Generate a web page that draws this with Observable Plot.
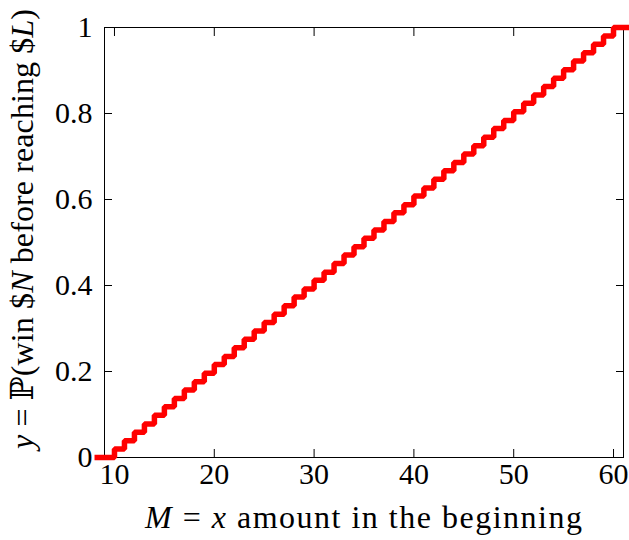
<!DOCTYPE html>
<html><head><meta charset="utf-8">
<script src="https://cdn.jsdelivr.net/npm/d3@7"></script>
<script src="https://cdn.jsdelivr.net/npm/@observablehq/plot@0.6"></script>
<style>html,body{margin:0;padding:0;background:#fff;overflow:hidden} svg{display:block;overflow:hidden}</style>
</head><body><div id="chart"></div>
<script>
// starting amount M
const amounts = [8, 9, 10, 11, 12, 13, 14, 15, 16, 17, 18, 19, 20, 21, 22, 23, 24, 25, 26, 27, 28, 29,
  30, 31, 32, 33, 34, 35, 36, 37, 38, 39, 40, 41, 42, 43, 44, 45, 46, 47, 48, 49,
  50, 51, 52, 53, 54, 55, 56, 57, 58, 59, 60, 61, 62];
// probability of winning $N before reaching $L
const probabilities = [0, 0, 0.020, 0.039, 0.059, 0.078, 0.098, 0.118, 0.137, 0.157, 0.176, 0.196,
  0.216, 0.235, 0.255, 0.275, 0.294, 0.314, 0.333, 0.353, 0.373, 0.392, 0.412, 0.431,
  0.451, 0.471, 0.490, 0.510, 0.529, 0.549, 0.569, 0.588, 0.608, 0.627, 0.647, 0.667,
  0.686, 0.706, 0.725, 0.745, 0.765, 0.784, 0.804, 0.824, 0.843, 0.863, 0.882, 0.902,
  0.922, 0.941, 0.961, 0.980, 1, 1, 1];
const xTicks = [10, 20, 30, 40, 50, 60];
const xTickLabels = ["10", "20", "30", "40", "50", "60"];
const yTicks = [0, 0.2, 0.4, 0.6, 0.8, 1];
const yTickLabels = ["0", "0.2", "0.4", "0.6", "0.8", "1"];

const data = amounts.map((x, i) => ({x, y: probabilities[i]}));
const FONT = "'Liberation Serif', 'DejaVu Serif', serif";
const FS = 30;
const LFS = 32;
const TICK = 8;

const plot = Plot.plot({
  width: 629,
  height: 540,
  marginLeft: 104,
  marginRight: 6,
  marginTop: 27,
  marginBottom: 83,
  style: {fontFamily: FONT, background: "#fff", color: "#000"},
  x: {domain: [9, 61]},
  y: {domain: [0, 1]},
  marks: [
    Plot.axisX({anchor: "bottom", ticks: xTicks, tickSize: -TICK, tickFormat: () => "", label: null}),
    Plot.axisX({anchor: "top", ticks: xTicks, tickSize: -TICK, tickFormat: () => "", label: null}),
    Plot.axisY({anchor: "left", ticks: yTicks, tickSize: -TICK, tickFormat: () => "", label: null}),
    Plot.axisY({anchor: "right", ticks: yTicks, tickSize: -TICK, tickFormat: () => "", label: null}),
    Plot.axisX({anchor: "bottom", ticks: xTicks, tickSize: 0, tickPadding: 5, fontSize: FS,
      tickFormat: d => xTickLabels[xTicks.indexOf(d)], label: null}),
    Plot.axisY({anchor: "left", ticks: yTicks, tickSize: 0, tickPadding: 12, fontSize: FS,
      tickFormat: d => yTickLabels[yTicks.indexOf(d)], label: null}),
    Plot.frame({stroke: "#000", strokeWidth: 1}),
    Plot.line(data, {x: "x", y: "y", curve: "step-after", stroke: "#ff0000", strokeWidth: 5.5,
      strokeLinejoin: "miter", strokeLinecap: "butt"})
  ]
});
document.getElementById("chart").appendChild(plot);

const svg = d3.select(plot);
function addMath(g, parts) {
  parts.forEach(([t, italic]) => {
    g.append("tspan").attr("font-style", italic ? "italic" : "normal").text(t);
  });
}
const xl = svg.append("text")
  .attr("x", 363.5).attr("y", 528)
  .attr("text-anchor", "middle")
  .attr("textLength", 437).attr("lengthAdjust", "spacing")
  .attr("font-family", FONT).attr("font-size", LFS).attr("fill", "#000");
addMath(xl, [["M", true], [" = ", false], ["x", true], [" amount in the beginning", false]]);

const yl = svg.append("text")
  .attr("transform", "translate(33,229) rotate(-90)")
  .attr("text-anchor", "middle")
  .attr("textLength", 440).attr("lengthAdjust", "spacing")
  .attr("font-family", FONT).attr("font-size", LFS).attr("fill", "#000");
addMath(yl, [["y", true], [" = \u2119(win $", false], ["N", true], [" before reaching $", false], ["L", true], [")", false]]);
</script>
</body></html>
